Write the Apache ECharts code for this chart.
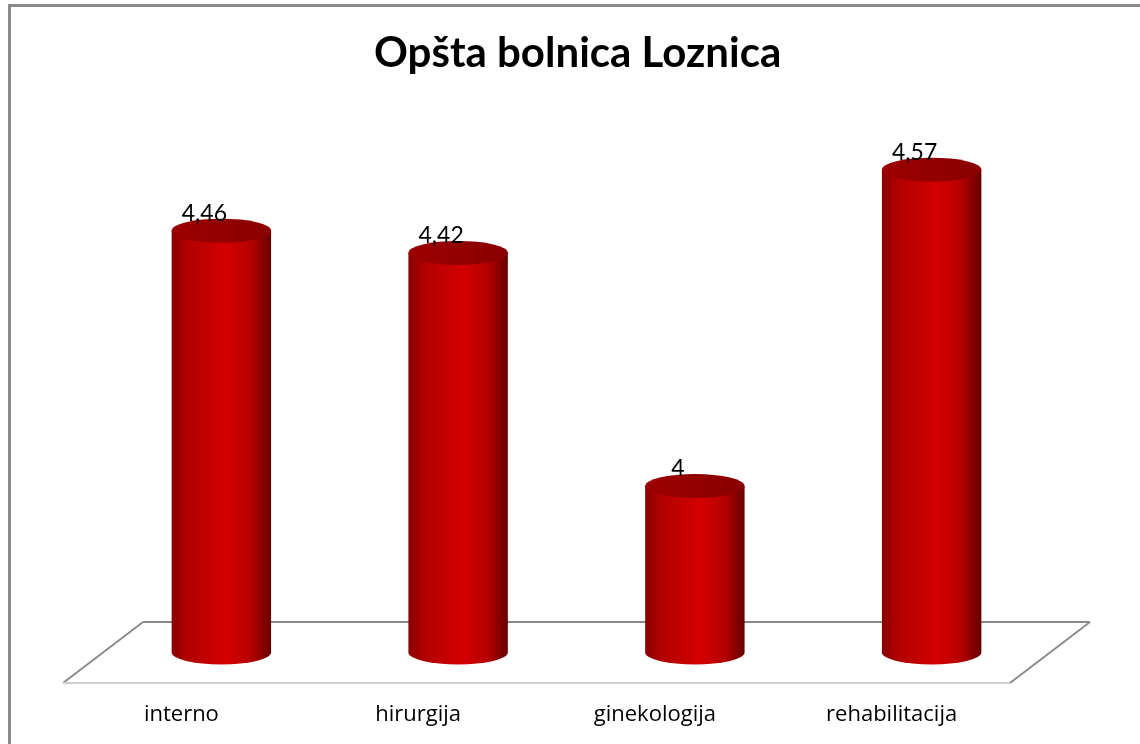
<!DOCTYPE html>
<html>
<head>
<meta charset="utf-8">
<script src="https://cdn.jsdelivr.net/npm/echarts@6/dist/echarts.min.js"></script>
<style>
  html, body { margin: 0; padding: 0; background: #fff; }
  #chart { width: 1140px; height: 744px; }
</style>
</head>
<body>
<div id="chart"></div>
<script>
// podaci
const categories = ["interno", "hirurgija", "ginekologija", "rehabilitacija"];
const values = [4.46, 4.42, 4, 4.57];
const axisMin = 3.7;
const axisMax = 4.6;

// 3D dubina poda
const depthX = 80;
const depthY = 61;

const chart = echarts.init(document.getElementById("chart"));

function renderCylinder(params, api) {
    const idx = api.value(0);
    const val = api.value(1);
    const top = api.coord([idx, val]);
    const base = api.coord([idx, axisMin]);
    const band = api.size([1, 0])[0];
    const rx = band * 0.21;
    const ry = 12;
    const cx = top[0] + depthX / 2;
    const ty = top[1] - depthY / 2;
    const by = base[1] - depthY / 2;
    const l = cx - rx, r = cx + rx;

    const bodyFill = new echarts.graphic.LinearGradient(0, 0, 1, 0, [
        { offset: 0, color: "#8a0000" },
        { offset: 0.15, color: "#b00000" },
        { offset: 0.55, color: "#d40000" },
        { offset: 0.8, color: "#b50000" },
        { offset: 1, color: "#650000" }
    ]);
    const topFill = new echarts.graphic.LinearGradient(0, 0, 1, 0, [
        { offset: 0, color: "#9c0000" },
        { offset: 1, color: "#8a0000" }
    ]);

    return {
        type: "group",
        children: [
            {
                type: "path",
                shape: {
                    pathData: "M" + l + "," + ty + " L" + l + "," + by +
                        " A" + rx + "," + ry + " 0 0 0 " + r + "," + by +
                        " L" + r + "," + ty + " Z"
                },
                style: { fill: bodyFill }
            },
            {
                type: "path",
                shape: {
                    pathData: "M" + l + "," + ty +
                        " A" + rx + "," + ry + " 0 1 1 " + r + "," + ty +
                        " A" + rx + "," + ry + " 0 1 1 " + l + "," + ty + " Z"
                },
                style: { fill: topFill }
            },
            {
                type: "text",
                style: {
                    text: String(val).replace(".", ","),
                    x: cx - 17,
                    y: ty - 17,
                    align: "center",
                    verticalAlign: "middle",
                    fill: "#000",
                    font: "23px Lato"
                }
            }
        ]
    };
}

function renderFloor(params, api) {
    const cs = params.coordSys;
    const x0 = cs.x, x1 = cs.x + cs.width;
    const y0 = cs.y + cs.height;
    return {
        type: "group",
        silent: true,
        children: [
            {
                type: "polygon",
                shape: { points: [[x0, y0], [x1, y0], [x1 + depthX, y0 - depthY], [x0 + depthX, y0 - depthY]] },
                style: { fill: "#fff", stroke: null }
            },
            {
                type: "line",
                shape: { x1: x0 + depthX, y1: y0 - depthY, x2: x1 + depthX, y2: y0 - depthY },
                style: { stroke: "#888", lineWidth: 2 }
            },
            {
                type: "line",
                shape: { x1: x0, y1: y0, x2: x0 + depthX, y2: y0 - depthY },
                style: { stroke: "#8c8c8c", lineWidth: 2 }
            },
            {
                type: "line",
                shape: { x1: x1, y1: y0, x2: x1 + depthX, y2: y0 - depthY },
                style: { stroke: "#8c8c8c", lineWidth: 2 }
            },
            {
                type: "line",
                shape: { x1: x0, y1: y0, x2: x1, y2: y0 },
                style: { stroke: "#cfcfcf", lineWidth: 2 }
            }
        ]
    };
}

const option = {
    backgroundColor: "#fff",
    animation: false,
    title: {
        text: "Opšta bolnica Loznica",
        left: 369,
        top: 27,
        textStyle: {
            fontFamily: "Lato",
            fontWeight: "bold",
            fontSize: 42,
            color: "#000"
        }
    },
    graphic: [{
        type: "rect",
        shape: { x: 9.5, y: 5.5, width: 1200, height: 800 },
        style: { fill: null, stroke: "#8a8a8a", lineWidth: 3 },
        silent: true
    }],
    grid: {
        left: 63,
        right: 130,
        top: 183.5,
        bottom: 61
    },
    xAxis: {
        type: "category",
        data: categories,
        axisLine: { show: false },
        axisTick: { show: false },
        axisLabel: {
            margin: 21,
            fontFamily: "Open Sans",
            fontSize: 22,
            color: "#000"
        }
    },
    yAxis: {
        type: "value",
        min: axisMin,
        max: axisMax,
        show: false
    },
    series: [
        {
            type: "custom",
            renderItem: renderFloor,
            data: [[0, axisMin]],
            z: 1
        },
        {
            type: "custom",
            renderItem: renderCylinder,
            data: values.map((v, i) => [i, v]),
            z: 2
        }
    ]
};

chart.setOption(option);
</script>
</body>
</html>
